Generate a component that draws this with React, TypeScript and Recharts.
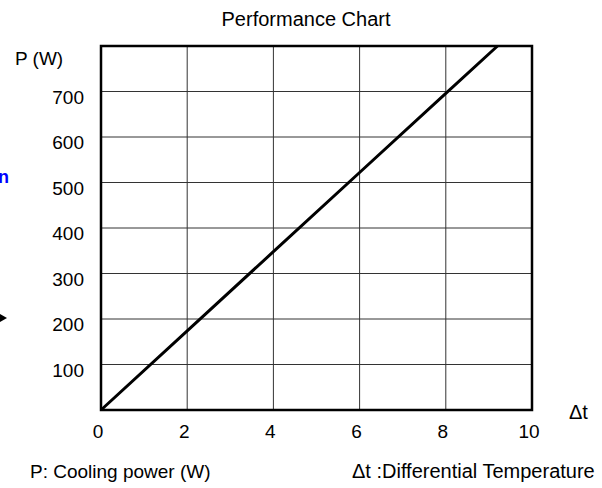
import {
  LineChart, Line, XAxis, YAxis, CartesianGrid, ReferenceArea,
} from 'recharts';

// Δt (differential temperature) vs P (cooling power, W)
const deltaT = [0, 2, 4, 6, 8, 9.2];
const power  = [0, 174, 348, 522, 696, 800];

const xTicks = [0, 2, 4, 6, 8, 10];
const yTicks = [100, 200, 300, 400, 500, 600, 700];

const chartData = deltaT.map((t, i) => ({ dt: t, p: power[i] }));

const FONT = '"Liberation Sans", Arial, sans-serif';

function XTick({ x, y, payload }: any) {
  return (
    <text x={x - 3} y={y} dy={14} textAnchor="middle" fontSize={19} fontFamily={FONT} fill="#000">
      {payload.value}
    </text>
  );
}

function YTick({ x, y, payload }: any) {
  return (
    <text x={x} y={y} dy={12} textAnchor="end" fontSize={19} fontFamily={FONT} fill="#000">
      {payload.value}
    </text>
  );
}

export default function App() {
  return (
    <div style={{ position: 'absolute', left: 0, top: 0, width: 602, height: 488, background: '#fff' }}>
      <LineChart
        width={602}
        height={488}
        data={chartData}
        margin={{ top: 46, right: 70, bottom: 48, left: 41 }}
      >
        <CartesianGrid stroke="#333" strokeWidth={1} />
        <XAxis
          type="number"
          dataKey="dt"
          domain={[0, 10]}
          ticks={xTicks}
          height={30}
          tickSize={0}
          tickMargin={14}
          axisLine={false}
          tick={<XTick />}
        />
        <YAxis
          type="number"
          domain={[0, 800]}
          ticks={yTicks}
          width={60}
          tickSize={0}
          tickMargin={17}
          axisLine={false}
          tick={<YTick />}
        />
        <ReferenceArea x1={0} x2={10} y1={0} y2={800} fill="none" stroke="#000" strokeWidth={2.5} />
        <Line
          type="linear"
          dataKey="p"
          stroke="#000"
          strokeWidth={3}
          dot={false}
          activeDot={false}
          isAnimationActive={false}
        />
      </LineChart>

      {/* titles and captions */}
      <svg width={602} height={488} style={{ position: 'absolute', left: 0, top: 0, pointerEvents: 'none' }}>
        <g fontFamily={FONT} fill="#000">
          <text x={306} y={26} fontSize={20} textAnchor="middle">Performance Chart</text>
          <text x={15} y={65} fontSize={19}>P (W)</text>
          <text x={569} y={419} fontSize={20}>Δt</text>
          <text x={30} y={478} fontSize={19}>P: Cooling power (W)</text>
          <text x={352} y={478} fontSize={20}>Δt :Differential Temperature</text>
        </g>
        <text x={-2} y={183} fontSize={18} fontFamily={FONT} fontWeight="bold" fill="#0000ff">n</text>
        <polygon points="0,314 7,318 0,322" fill="#000" />
      </svg>
    </div>
  );
}
